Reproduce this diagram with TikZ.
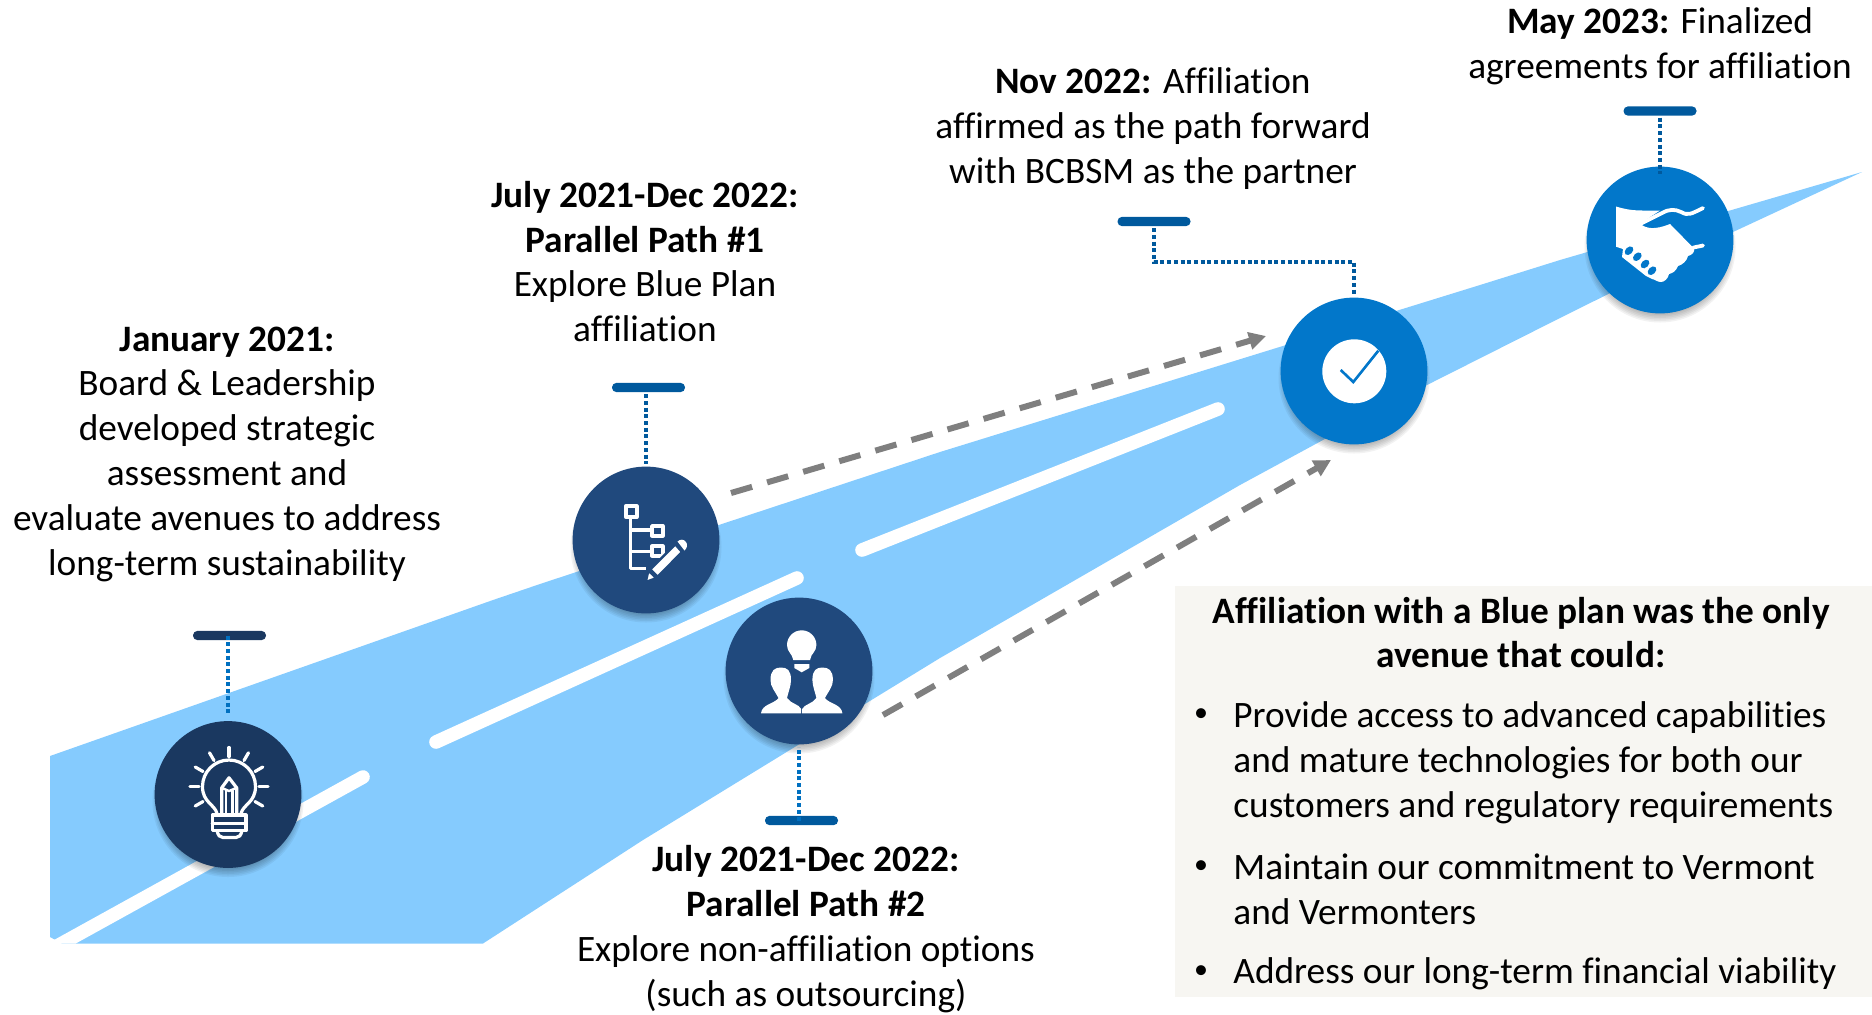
\documentclass[tikz,border=0pt]{standalone}
\usepackage{fontspec}
\setmainfont{Carlito}[Ligatures=CommonOff]
\usetikzlibrary{arrows.meta,calc}
\definecolor{roadblue}{HTML}{85CBFE}
\definecolor{navyA}{HTML}{1A3860}
\definecolor{navyB}{HTML}{20497D}
\definecolor{brightB}{HTML}{0277CA}
\definecolor{barblue}{HTML}{00599D}
\definecolor{dotblue}{HTML}{0070C0}
\definecolor{arrowgray}{HTML}{7F7F7F}
\definecolor{boxbg}{HTML}{F7F6F2}
\tikzset{
  disc/.style={circle,minimum size=73.4pt,inner sep=0pt,draw=none},
  barnode/.style={rectangle,rounded corners=2.2pt,minimum width=36.5pt,minimum height=4.6pt,inner sep=0pt,draw=none},
  stem/.style={draw=dotblue,line width=1.6pt,dash pattern=on 2pt off 1.35pt},
  darkstem/.style={draw=barblue,line width=1.6pt,dash pattern=on 2pt off 1.35pt},
  gaparrow/.style={draw=arrowgray,line width=3pt,dash pattern=on 11pt off 7.8pt,-{Triangle[length=8.5pt,width=8.5pt,fill=arrowgray]}},
  roadline/.style={white,line width=6.8pt,line cap=round},
  label/.style={font=\fontsize{18.65}{22.4}\selectfont,align=center,text=black,inner sep=0pt},
  listitem/.style={font=\fontsize{18.65}{22.4}\selectfont,align=left,text=black,inner sep=0pt,anchor=west},
  dotitem/.style={font=\fontsize{14}{16}\selectfont,text=black,inner sep=0pt},
  iconline/.style={draw=white,line width=1.6pt,line cap=round,line join=round},
}
\newcommand{\softshadow}[2]{%
  \foreach \rr in {65,66.5,68,69.5,71,72.5,74,75.5}{
    \fill[black,fill opacity=0.05] (#1,#2+7) circle[radius=\rr];
  }%
}
\begin{document}
\begin{tikzpicture}[x=0.5pt,y=-0.5pt]
\useasboundingbox (0,0) rectangle (1872,1014);
% road
\fill[roadblue] (50,756) -- (493,600) -- (540,584) -- (940,452) -- (1480,285) -- (1560,260) -- (1862,172) -- (1733,232) -- (1560,318) -- (1427,385) -- (1323,440) -- (1240,485) -- (940,658) -- (643,840) -- (483,943.5) -- (62,943.5) -- (50,937) -- cycle;
\begin{scope}
  \clip (50,756) -- (493,600) -- (540,584) -- (940,452) -- (1480,285) -- (1560,260) -- (1862,172) -- (1483,370) -- (483,943.5) -- (50,943.5) -- cycle;
  \draw[roadline] (30,961) -- (363,777);
\end{scope}
\draw[roadline] (436,742) -- (797,578);
\draw[roadline] (862,550) -- (1218,409);
% info box
\fill[boxbg] (1175,586) rectangle (1872,997);
% discs
\softshadow{228}{794.5}
\softshadow{646}{540}
\softshadow{799}{671}
\softshadow{1354}{371}
\softshadow{1660}{240}
\node[disc,fill=navyA] (c1) at (228,794.5) {};
\node[disc,fill=navyB] (c2) at (646,540) {};
\node[disc,fill=navyB] (c3) at (799,671) {};
\node[disc,fill=brightB] (c4) at (1354,371) {};
\node[disc,fill=brightB] (c5) at (1660,240) {};
% bars
\node[barnode,fill=navyA] (b1) at (229.5,635.5) {};
\node[barnode,fill=barblue] (b2) at (648.5,387.5) {};
\node[barnode,fill=barblue] (b3) at (801.5,820.5) {};
\node[barnode,fill=barblue] (b4) at (1154,221.5) {};
\node[barnode,fill=barblue] (b5) at (1660,111) {};
\coordinate (e4) at (1354,262);
% stems
\draw[stem,shorten >=3pt] (b1 -| c1) -- (c1.north);
\draw[darkstem,shorten >=1pt] (b2 -| c2) -- (c2.north);
\draw[stem,shorten >=1pt] (b3 -| c3) -- (c3.south);
\draw[darkstem,shorten >=1.3pt] (b4.center) |- (e4) -- (c4.north);
\draw[darkstem,shorten >=-4pt] (b5.center) -- (c5.north);
% dashed arrows
\coordinate (a1s) at (731,493);
\coordinate (a1e) at (1266,336);
\coordinate (a2s) at (883,715);
\coordinate (a2e) at (1331,460);
\draw[gaparrow] (a1s) -- (a1e);
\draw[gaparrow] (a2s) -- (a2e);
% icon 1: bulb with pencil
\begin{scope}[shift={(c1.center)}]
  \foreach \a in {180,210,240,270,300,330,360,150,30}{
    \draw[iconline] ($(1,-8)+(\a:30)$) -- ($(1,-8)+(\a:39)$);
  }
  \draw[iconline] (-11,19) .. controls (-13,10) and (-25.5,8) .. (-25.5,-8) arc[start angle=180,end angle=360,radius=26.5] .. controls (27.5,8) and (15,10) .. (13,19);
  \draw[iconline] (-6.3,19) -- (-6.3,-6.7) -- (1,-16.7) -- (8.7,-6.7) -- (8.7,19);
  \draw[iconline,line width=1.2pt] (-6.3,-6.7) -- (1,-3.5) -- (8.7,-6.7);
  \draw[iconline,line width=1.2pt] (-2,-4) -- (-2,19) (4.5,-4) -- (4.5,19);
  \draw[iconline] (-15.7,20.5) rectangle (18,36);
  \draw[iconline] (-15.7,29) -- (18,29);
  \draw[iconline] (-11,36) .. controls (-10,41) and (-8,43) .. (-5,43) -- (8,43) .. controls (11,43) and (13,41) .. (14,36);
\end{scope}
% icon 2: tree with pencil
\begin{scope}[shift={(c2.center)}]
  \draw[iconline,line cap=butt,line width=1.9pt] (-20.3,-33.7) rectangle (-9.3,-23);
  \draw[iconline,line cap=butt,line width=1.9pt] (6,-14) rectangle (16.7,-4.3);
  \draw[iconline,line cap=butt,line width=1.9pt] (6,6.3) rectangle (16.7,15.7);
  \draw[iconline,line cap=butt] (-15.7,-23) -- (-15.7,28.7) -- (0.3,28.7);
  \draw[iconline,line cap=butt] (-15.7,-10) -- (6,-10);
  \draw[iconline,line cap=butt] (-15.7,11.7) -- (6,11.7);
  \fill[white,draw=navyB,line width=1.2pt,line join=round] (4.3,29.3) -- (29.3,4.3) -- (36,12) -- (11.7,36.7) -- cycle;
  \fill[white,draw=navyB,line width=1pt,line join=round] (2.5,31) -- (10,38) -- (0,41.7) -- cycle;
  \fill[white] (31.5,1.5) .. controls (34,-1) and (38,-1) .. (40,2) .. controls (42,5) and (41,8) .. (38.5,10.5) -- cycle;
\end{scope}
% icon 3: people with bulb
\begin{scope}[shift={(c3.center)}]
  \fill[white] (-5.7,-11) .. controls (-7,-18) and (-12,-19) .. (-12,-26) arc[start angle=180,end angle=360,radius=14.7] .. controls (17.4,-19) and (12,-18) .. (11,-11) -- cycle;
  \fill[white] (-4.7,-7) -- (10.3,-7) -- (10.3,-3) -- (2.7,1.3) -- (-4.7,-3) -- cycle;
  \fill[white] (-38,42.3) .. controls (-37,33) and (-25,33) .. (-20.5,27) .. controls (-23,22) and (-29,15) .. (-28.5,9) .. controls (-28.5,-1) and (-24,-3.5) .. (-18,-3.5) .. controls (-12,-3.5) and (-8,-1) .. (-8,9) .. controls (-8,15) and (-11,22) .. (-12,27) .. controls (-8,33) and (0,33) .. (2.2,38) -- (2.2,42.3) -- cycle;
  \fill[white] (43.4,42.3) .. controls (42.4,33) and (30.4,33) .. (25.9,27) .. controls (28.4,22) and (34.4,15) .. (33.9,9) .. controls (33.9,-1) and (29.4,-3.5) .. (23.4,-3.5) .. controls (17.4,-3.5) and (13.4,-1) .. (13.4,9) .. controls (13.4,15) and (16.4,22) .. (17.4,27) .. controls (13.4,33) and (5.4,33) .. (3.2,38) -- (3.2,42.3) -- cycle;
\end{scope}
% icon 4: check
\begin{scope}[shift={(c4.center)}]
  \fill[white] (0.3,0.3) circle[radius=32];
  \draw[draw=brightB,line width=1.3pt] (-13.3,-1) -- (-0.7,11) -- (24.3,-20.3);
\end{scope}
% icon 5: handshake
\begin{scope}[shift={(c5.center)}]
  \fill[white] (-44,-33.5) .. controls (-34,-30.5) and (-27,-29.5) .. (-17,-29.5) -- (0,-29.5) -- (-20,-16.5) .. controls (-14,-11) and (-5,-10) .. (10,-16) -- (34,8.5) .. controls (35,12) and (32,15) .. (28,16) .. controls (27,21) and (22,25) .. (18,26) .. controls (16,31) and (13,33) .. (9,34) .. controls (8,39) and (4,42) .. (1,42) .. controls (-3,42) and (-6,39) .. (-8,39) -- (-14,36) -- (-38,17) -- (-37,9) -- (-44,6.7) -- cycle;
  \draw[iconline,line width=1.9pt] (-19,-16.5) -- (2,-27) .. controls (9,-31) and (15,-31) .. (21,-28) .. controls (28,-24) and (31,-26) .. (43,-32);
  \draw[iconline,line width=1.9pt] (33,7.7) .. controls (37,6.5) and (40,6.5) .. (43,5.5);
  \foreach \px/\py in {-31/10.7,-22.7/16.7,-15/24,-8/30.7}{
    \fill[brightB,rotate around={45:(\px,\py)}] (\px,\py) ellipse[x radius=5,y radius=3.5];
  }
\end{scope}
% labels
\node[label] (t1) at (227,454) {\textbf{January 2021:}\\Board \& Leadership\\developed strategic\\assessment and\\evaluate avenues to address\\long-term sustainability};
\node[label] (t2) at (645,261.5) {\textbf{July 2021-Dec 2022:}\\\textbf{Parallel Path \#1}\\Explore Blue Plan\\affiliation};
\node[label] (t3) at (806,929) {\textbf{July 2021-Dec 2022:}\\\textbf{Parallel Path \#2}\\Explore non-affiliation options\\(such as outsourcing)};
\node[label] (t4) at (1153,128.6) {\textbf{Nov 2022:} Affiliation\\affirmed as the path forward\\with BCBSM as the partner};
\node[label] (t5) at (1660,46) {\textbf{May 2023:} Finalized\\agreements for affiliation};
\node[label] (t6) at (1521,632.5) {\textbf{Affiliation with a Blue plan was the only}\\\textbf{avenue that could:}};
\node[dotitem] (d1) at (1201,715) {•};
\node[dotitem] (d2) at (1201,867) {•};
\node[dotitem] (d3) at (1201,972) {•};
\node[listitem] (l1) at (1233,763) {Provide access to advanced capabilities\\and mature technologies for both our\\customers and regulatory requirements};
\node[listitem] (l2) at (1233,889) {Maintain our commitment to Vermont\\and Vermonters};
\node[listitem] (l3) at (1233,974) {Address our long-term financial viability};
\end{tikzpicture}
\end{document}
